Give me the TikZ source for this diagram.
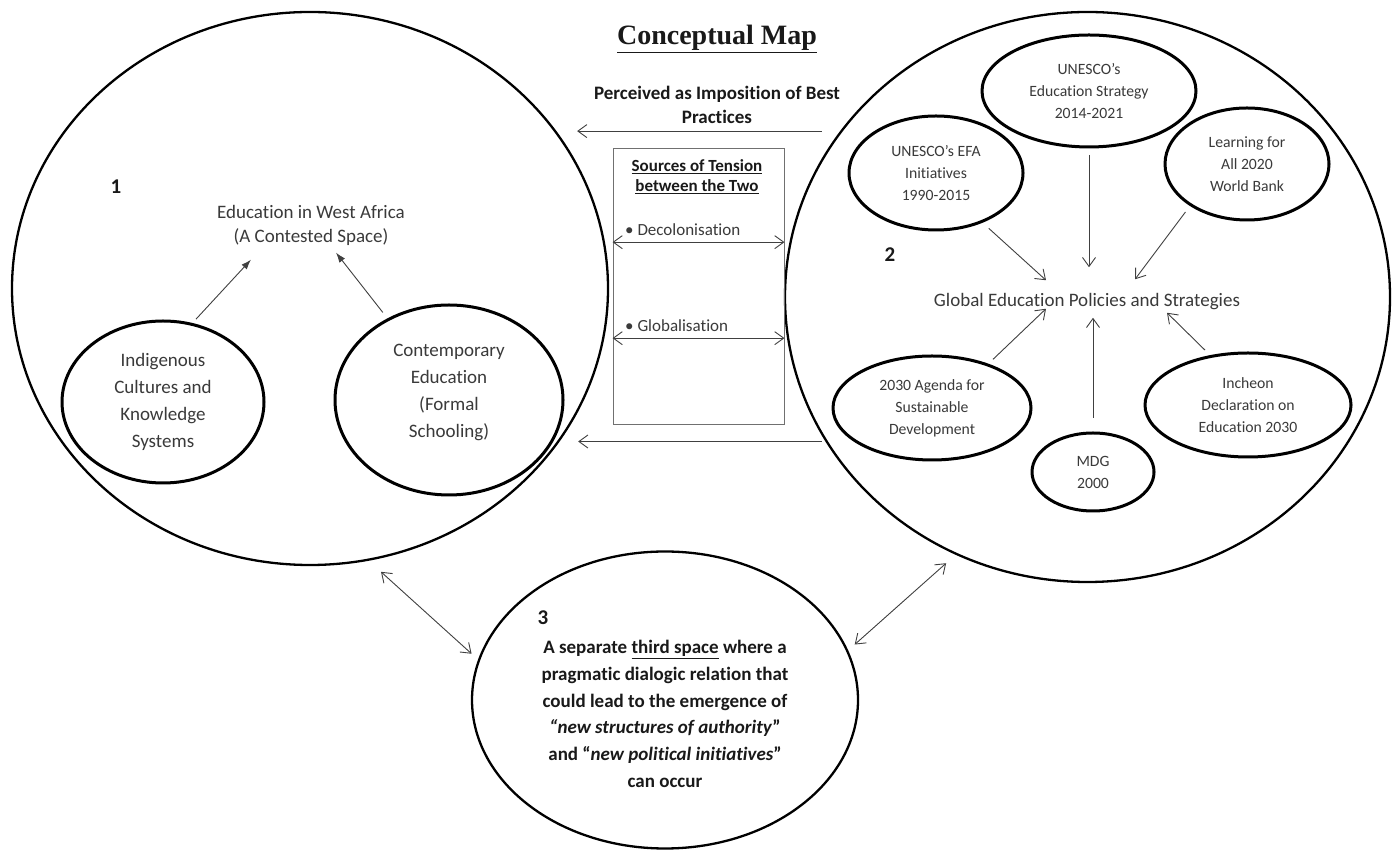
\documentclass[tikz,border=0pt]{standalone}
\usepackage{fontspec}
\setmainfont{Carlito}[Ligatures=NoCommon]
\newfontfamily\mapfont{Liberation Serif}
\usetikzlibrary{shapes.geometric,arrows.meta}
\definecolor{txtgray}{HTML}{3A3A3A}
\definecolor{arrgray}{HTML}{404040}
\definecolor{boxgray}{HTML}{707070}
\tikzset{
 bigring/.style={draw,ellipse,line width=2.3pt,inner sep=0pt,outer sep=0pt},
 lblob/.style={draw,ellipse,line width=3pt,inner sep=0pt,outer sep=0pt,align=center,text=txtgray,font=\fontsize{19}{27}\selectfont},
 rblob/.style={draw,ellipse,line width=3pt,inner sep=0pt,outer sep=0pt,align=center,text=txtgray,font=\fontsize{15.7}{22}\selectfont},
 plaintxt/.style={align=center,text=txtgray,font=\fontsize{19}{24}\selectfont},
 boldtxt/.style={align=center,text=black!90,font=\bfseries\fontsize{19}{24}\selectfont},
 bullettxt/.style={text=txtgray,inner ysep=6pt,inner xsep=0pt,font=\fontsize{17}{20}\selectfont},
 numlbl/.style={text=black!90,font=\bfseries\fontsize{21}{24}\selectfont},
 openarr/.style={-{Straight Barb[length=9pt,width=13pt]},line width=0.9pt,draw=arrgray},
 dblarr/.style={{Straight Barb[length=9pt,width=13pt]}-{Straight Barb[length=9pt,width=13pt]},line width=0.9pt,draw=arrgray},
 fillarr/.style={-{Latex[length=10pt,width=7pt]},line width=0.9pt,draw=arrgray}
}
\begin{document}
\begin{tikzpicture}[x=1pt,y=1pt]
 \fill[white] (0,0) rectangle (1397,851);
 \useasboundingbox (0,0) rectangle (1397,851);
 % the three spaces
 \node[bigring,minimum width=596pt,minimum height=553pt] (wacirc) at (310,562.5) {};
 \node[bigring,minimum width=605pt,minimum height=570pt] (glcirc) at (1087.5,554) {};
 \node[bigring,minimum width=386pt,minimum height=297pt] (thcirc) at (665,151) {};
 % title and middle column
 \node[anchor=base,text=black!90,font=\mapfont\bfseries\fontsize{28}{30}\selectfont] (maptitle) at (717,806) {\underline{Conceptual Map}};
 \node[boldtxt] (imposed) at (717,746) {Perceived as Imposition of Best\\ Practices};
 \node[draw=boxgray,line width=0.9pt,minimum width=171pt,minimum height=276pt,inner sep=0pt] (tension) at (698.5,565) {};
 \node[boldtxt,font=\bfseries\fontsize{17}{20}\selectfont] (sources) at (697,674) {\underline{Sources of Tension}\\ \underline{between the Two}};
 \node[bullettxt,anchor=west] (decol) at (625,621) {\textbullet\ Decolonisation};
 \node[bullettxt,anchor=west] (globn) at (625,525) {\textbullet\ Globalisation};
 \draw[dblarr] (tension.west |- decol.south) -- (tension.east |- decol.south);
 \draw[dblarr] (tension.west |- globn.south) -- (tension.east |- globn.south);
 \draw[openarr,shorten <=20pt,shorten >=23pt] (glcirc.146) -- (glcirc.146 -| wacirc.33);
 \draw[openarr,shorten <=5pt,shorten >=21pt] (glcirc.209) -- (glcirc.209 -| wacirc.328);
 % space 1
 \node[numlbl] (one) at (116,664) {1};
 \node[plaintxt] (wafrica) at (311,626) {Education in West Africa\\ (A Contested Space)};
 \node[lblob,minimum width=202pt,minimum height=162pt] (indig) at (163,449) {Indigenous\\ Cultures and\\ Knowledge\\ Systems};
 \node[lblob,minimum width=228pt,minimum height=190pt] (contemp) at (449,451) {Contemporary\\ Education\\ (Formal\\ Schooling)\\[-8pt]};
 \draw[fillarr,shorten <=7pt] (indig.70) -- ([xshift=-60pt,yshift=-11pt]wafrica.south);
 \draw[fillarr,shorten <=9pt] (contemp.127) -- ([xshift=25pt,yshift=-4pt]wafrica.south);
 % space 2
 \node[numlbl] (two) at (890,596) {2};
 \node[plaintxt] (glob) at (1087,549) {Global Education Policies and Strategies};
 \node[rblob,minimum width=214pt,minimum height=112pt] (strat) at (1089,760) {UNESCO’s\\ Education Strategy\\ 2014-2021};
 \node[rblob,minimum width=174pt,minimum height=114pt] (efa) at (936,678) {UNESCO’s EFA\\ Initiatives\\ 1990-2015};
 \node[rblob,minimum width=164pt,minimum height=112pt] (learn) at (1247,687) {Learning for\\ All 2020\\ World Bank};
 \node[rblob,minimum width=198pt,minimum height=104pt] (agenda) at (932,443) {2030 Agenda for\\ Sustainable\\ Development};
 \node[rblob,minimum width=122pt,minimum height=78pt] (mdg) at (1093,379) {MDG\\ 2000};
 \node[rblob,minimum width=206pt,minimum height=104pt] (incheon) at (1248,446) {Incheon\\ Declaration on\\ Education 2030};
 \draw[openarr,shorten <=10pt] (efa.313) -- ([xshift=-41pt,yshift=10pt]glob.north);
 \draw[openarr,shorten <=8pt] (strat.south) -- ([xshift=2pt,yshift=23pt]glob.north);
 \draw[openarr,shorten <=9pt] (learn.216) -- ([xshift=48pt,yshift=11pt]glob.north);
 \draw[openarr,shorten <=8pt] (agenda.38) -- ([xshift=-41pt,yshift=5pt]glob.south);
 \draw[openarr,shorten <=15pt] (mdg.north) -- ([xshift=6pt,yshift=-4pt]glob.south);
 \draw[openarr,shorten <=9pt] (incheon.127) -- ([xshift=80pt,yshift=1pt]glob.south);
 % space 3
 \node[numlbl] (three) at (543,233) {3};
 \node[boldtxt,font=\bfseries\fontsize{19}{26.7}\selectfont] (thirdtxt) at (665,137) {A separate \underline{third space} where a\\ pragmatic dialogic relation that\\ could lead to the emergence of\\ \textit{“new structures of authority}”\\ and “\textit{new political initiatives}”\\ can occur};
 \draw[dblarr,shorten <=18pt,shorten >=10pt] (wacirc.282) -- (thcirc.168);
 \draw[dblarr,shorten <=10pt,shorten >=14pt] (thcirc.15) -- (glcirc.243);
\end{tikzpicture}
\end{document}
